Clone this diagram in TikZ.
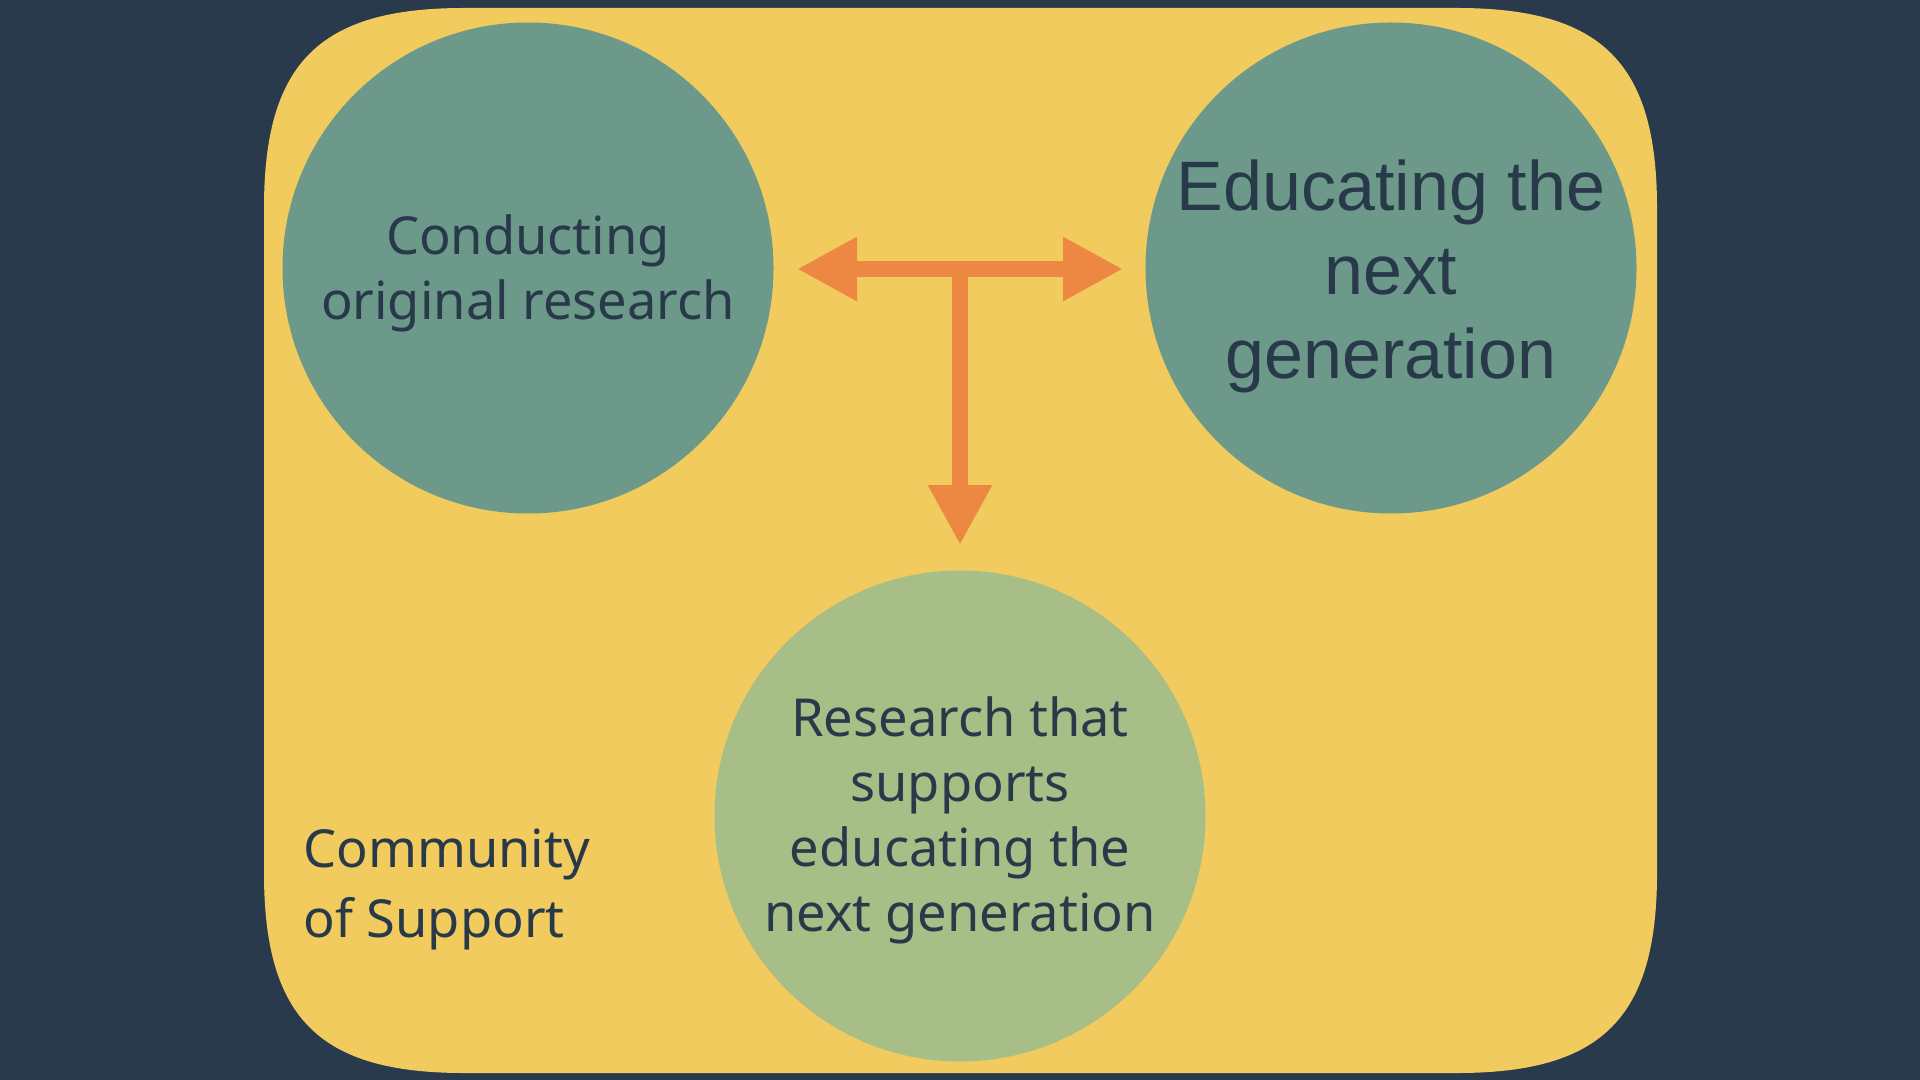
\documentclass[tikz,border=0pt]{standalone}
\usepackage{fontspec}
\setmainfont{Noto Sans}
\newfontfamily\helv{Liberation Sans}
\usetikzlibrary{arrows.meta}
\definecolor{bgnavy}{HTML}{283A4B}
\definecolor{panel}{HTML}{F2CB5F}
\definecolor{teal}{HTML}{6C998A}
\definecolor{sage}{HTML}{A7BF87}
\definecolor{arrowc}{HTML}{ED8843}
\definecolor{ink}{HTML}{283A4A}
\tikzset{
  bubble/.style={circle, minimum size=245.5pt, inner sep=0pt, draw=none},
  txt/.style={text=ink, align=center, inner sep=0pt, font=\fontsize{26.2pt}{32.5pt}\selectfont},
  sidetxt/.style={text=ink, align=left, inner sep=0pt, font=\fontsize{26.2pt}{35pt}\selectfont},
  bigtxt/.style={text=ink, align=center, inner sep=0pt, font=\helv\fontsize{35pt}{42pt}\selectfont},
  link/.style={draw=arrowc, line width=8pt},
  tip/.style={-{Triangle[length=30pt,width=30pt]}},
}
\begin{document}
\begin{tikzpicture}[x=0.5pt,y=-0.5pt]
\fill[bgnavy] (0,0) rectangle (1920,1080);
\useasboundingbox (0,0) rectangle (1920,1080);
% panel
\fill[panel] (264,208) .. controls (264,63) and (319,8) .. (464,8)
  -- (1457,8) .. controls (1602,8) and (1657,63) .. (1657,208)
  -- (1657,873) .. controls (1657,1018) and (1602,1073) .. (1457,1073)
  -- (464,1073) .. controls (319,1073) and (264,1018) .. (264,873) -- cycle;
% circles
\node[bubble, fill=teal] (c1) at (528,268) {};
\node[bubble, fill=teal] (c2) at (1391,268) {};
\node[bubble, fill=sage] (c3) at (960,816) {};
\node[txt] (t1) at (528,273) {Conducting\\original research};
\node[bigtxt] (t2) at (1391,276) {Educating the\\next\\generation};
\node[txt] (t3) at (960,820) {Research that\\supports\\educating the\\next generation};
\node[sidetxt, anchor=base west] (t4) at (303,937) {Community\\of Support};
% arrows
\coordinate (la) at (797,269);
\coordinate (ra) at (1123,269);
\coordinate (jn) at (960,269);
\coordinate (da) at (960,545);
\draw[link, {Triangle[length=30pt,width=30pt]}-{Triangle[length=30pt,width=30pt]}] (la) -- (ra);
\draw[link, tip] (jn) -- (da);
\end{tikzpicture}
\end{document}
